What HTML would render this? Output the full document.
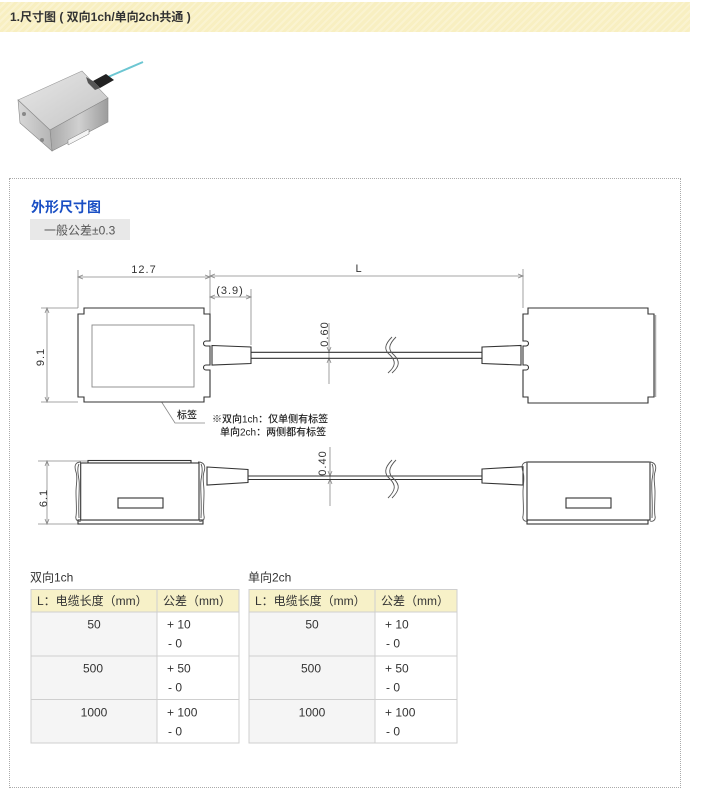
<!DOCTYPE html>
<html><head><meta charset="utf-8">
<style>
html,body{margin:0;padding:0;background:#fff;}
body{width:705px;height:792px;position:relative;overflow:hidden;font-family:"Liberation Sans","Noto Sans CJK SC",sans-serif;}
.hdr{position:absolute;left:0;top:2px;width:690px;height:30px;background:repeating-linear-gradient(135deg,#f8efc1 0px,#f8efc1 3px,#faf3d0 3px,#faf3d0 5px);}
.hdr span{position:absolute;left:10px;top:7px;font-size:12px;font-weight:bold;color:#333;white-space:nowrap;line-height:16px;}
.box{position:absolute;left:9px;top:178px;width:670px;height:608px;border:1px dotted #aaa;}
</style></head><body>
<div class="hdr"><span>1.尺寸图 ( 双向1ch/单向2ch共通 )</span></div>
<div class="box"></div>
<svg width="705" height="792" viewBox="0 0 705 792" style="position:absolute;left:0;top:0" font-family="Liberation Sans, Noto Sans CJK SC, sans-serif">
<defs>
<linearGradient id="gt" x1="0" y1="0" x2="1" y2="1"><stop offset="0" stop-color="#e8e8e8"/><stop offset="1" stop-color="#c4c4c4"/></linearGradient>
<linearGradient id="gf" x1="0" y1="0" x2="1" y2="0"><stop offset="0" stop-color="#a8a8a8"/><stop offset="0.5" stop-color="#d0d0d0"/><stop offset="1" stop-color="#9c9c9c"/></linearGradient>
<linearGradient id="gl" x1="0" y1="0" x2="1" y2="0"><stop offset="0" stop-color="#d8d8d8"/><stop offset="1" stop-color="#b4b4b4"/></linearGradient>
</defs>
<!-- device photo -->
<g>
<line x1="108" y1="77" x2="143" y2="62" stroke="#6cc6d2" stroke-width="2"/>
<polygon points="18,100 82,71 108,98 50,130" fill="url(#gt)" stroke="#999" stroke-width="0.6"/>
<polygon points="50,130 108,98 108,122 52,151" fill="url(#gf)" stroke="#888" stroke-width="0.6"/>
<polygon points="18,100 50,130 52,151 20,123" fill="url(#gl)" stroke="#888" stroke-width="0.6"/>
<polygon points="68,140 89,129 89,134 68,145" fill="#f4f4f4" stroke="#777" stroke-width="0.5"/>
<circle cx="24" cy="114" r="2" fill="#888"/><circle cx="42" cy="140" r="2" fill="#888"/>
<polygon points="93,81 106,74 114,80 100,88" fill="#222"/>
<polygon points="86,77 93,81 100,88 95,90 88,83" fill="#555"/>
</g>
<!-- title -->
<text x="31" y="212" font-size="14" font-weight="bold" fill="#1a4fc4">外形尺寸图</text>
<rect x="30" y="219" width="100" height="21" fill="#e8e8e8"/>
<text x="44" y="234.5" font-size="12" fill="#555">一般公差±0.3</text>

<!-- dimension lines -->
<g stroke="#888" stroke-width="0.8" fill="none">
<line x1="78" y1="270" x2="78" y2="308"/>
<line x1="210" y1="270" x2="210" y2="314"/>
<line x1="523" y1="269" x2="523" y2="308"/>
<line x1="251" y1="289" x2="251" y2="345"/>
<line x1="78" y1="277" x2="210" y2="277"/>
<line x1="210" y1="276" x2="523" y2="276"/>
<line x1="210" y1="297" x2="251" y2="297"/>
<path d="M83,275 L78,277 L83,279 M205,275 L210,277 L205,279"/>
<path d="M215,274 L210,276 L215,278 M518,274 L523,276 L518,278"/>
<path d="M215,295 L210,297 L215,299 M246,295 L251,297 L246,299"/>
<line x1="41" y1="308" x2="78" y2="308"/>
<line x1="41" y1="402" x2="78" y2="402"/>
<line x1="47" y1="308" x2="47" y2="402"/>
<path d="M45,313 L47,308 L49,313 M45,397 L47,402 L49,397"/>
<line x1="329" y1="323" x2="329" y2="384"/>
<path d="M327,347 L329,352 L331,347 M327,363 L329,358 L331,363"/>
<line x1="38" y1="461" x2="88" y2="461"/>
<line x1="38" y1="524" x2="78" y2="524"/>
<line x1="47" y1="461" x2="47" y2="524"/>
<path d="M45,466 L47,461 L49,466 M45,519 L47,524 L49,519"/>
<line x1="330" y1="447" x2="330" y2="506"/>
<path d="M328,471 L330,476 L332,471 M328,484 L330,479 L332,484"/>
<path d="M152,387 L175,423 L205,423"/>
<path d="M151,393 L152,387 L155,392"/>
</g>
<g font-size="11" fill="#333" letter-spacing="1">
<text x="144" y="273" text-anchor="middle">12.7</text>
<text x="359" y="272" text-anchor="middle">L</text>
<text x="230" y="294" text-anchor="middle">(3.9)</text>
<text transform="translate(44,357) rotate(-90)" text-anchor="middle">9.1</text>
<text transform="translate(328,334) rotate(-90)" text-anchor="middle">0.60</text>
<text transform="translate(326,463) rotate(-90)" text-anchor="middle">0.40</text>
<text transform="translate(47,498) rotate(-90)" text-anchor="middle">6.1</text>
</g>
<g font-size="10" fill="#222" font-weight="500">
<text x="177" y="418.5">标签</text>
<text x="212" y="422.5">※双向1ch：仅单侧有标签</text>
<text x="220" y="435.5">单向2ch：两侧都有标签</text>
</g>

<!-- top view bodies -->
<g stroke="#333" stroke-width="1.1" fill="#fff">
<path d="M78,314 H84 V308 H204 V314 H210 V341 H206 A2.5,2.5 0 0 0 206,346 H210 V365 H206 A2.5,2.5 0 0 0 206,370 H210 V397 H204 V402 H84 V397 H78 Z"/>
<path d="M523,314 H528 V308 H648 V314 H654 V397 H648 V403 H528 V397 H523 V370 H526 A2.5,2.5 0 0 0 526,365 H523 V346 H526 A2.5,2.5 0 0 0 526,341 H523 Z"/>
<line x1="655.5" y1="315" x2="655.5" y2="397" stroke="#aaa" stroke-width="1.5"/>
<polygon points="212,345.5 251,347 251,363.5 212,365"/>
<polygon points="482,347 521,345.5 521,365 482,363.5"/>
<line x1="251" y1="352.3" x2="482" y2="352.3"/>
<line x1="251" y1="358.3" x2="482" y2="358.3"/>
</g>
<rect x="92" y="325" width="102" height="62" fill="none" stroke="#888" stroke-width="0.9"/>
<g stroke="#555" stroke-width="0.9" fill="none">
<path d="M392,337 C384,345 384,350 390,355 C396,361 396,366 388,373"/>
<path d="M396,337 C388,345 388,350 394,355 C400,361 400,366 392,373"/>
</g>

<!-- side view -->
<g stroke="#333" stroke-width="1.1" fill="#fff">
<rect x="88" y="460.5" width="103" height="2.5"/>
<rect x="78" y="520" width="125" height="4"/>
<rect x="80.7" y="463" width="118.3" height="57"/>
<rect x="118" y="498" width="45" height="10"/>
<polygon points="207,467 248,469.5 248,482.5 207,485"/>
<line x1="248" y1="476" x2="482" y2="476"/>
<line x1="248" y1="479.5" x2="482" y2="479.5"/>
<rect x="527" y="520" width="121" height="4"/>
<rect x="527" y="462" width="123" height="58"/>
<rect x="566" y="498" width="45" height="10"/>
<polygon points="482,469 523,466.7 523,485 482,483"/>
</g>
<g stroke="#555" stroke-width="0.9" fill="none">
<path d="M81,462 C75,462 74,466 76,472 C78,478 76,484 76,492 C76,502 77,510 76,516 C75,520 78,522 81,521"/>
<path d="M79,464 C77,468 78,474 79,480 C80,488 78,500 79,518"/>
<path d="M198,462 C204,462 206,466 204,472 C202,478 204,484 204,492 C204,502 203,510 204,516 C205,520 202,522 199,521"/>
<path d="M201,464 C203,468 202,474 201,480 C200,488 202,500 201,518"/>
<path d="M528,462 C522,462 521,466 523,472 C525,478 523,484 523,492 C523,502 524,510 523,516 C522,520 525,522 528,521"/>
<path d="M649,462 C655,462 657,466 655,472 C653,478 655,484 655,492 C655,502 654,510 655,516 C656,520 653,522 650,521"/>
<path d="M652,464 C654,468 653,474 652,480 C651,488 653,500 652,518"/>
<path d="M392,460 C384,468 384,474 390,479 C396,485 396,490 388,498"/>
<path d="M396,460 C388,468 388,474 394,479 C400,485 400,490 392,498"/>
</g>

<!-- tables -->
<g font-size="12" fill="#333">
<text x="30" y="581.5">双向1ch</text>
<text x="248" y="581.5">单向2ch</text>
</g>
<g>
<rect x="31" y="589.5" width="208" height="22.5" fill="#f7f1c8"/>
<rect x="31" y="612" width="126" height="131" fill="#f5f5f5"/>
<rect x="249" y="589.5" width="208" height="22.5" fill="#f7f1c8"/>
<rect x="249" y="612" width="126" height="131" fill="#f5f5f5"/>
</g>
<g stroke="#cfcfcf" stroke-width="1" fill="none">
<rect x="31" y="589.5" width="208" height="153.5"/>
<line x1="157" y1="589.5" x2="157" y2="743"/>
<line x1="31" y1="612" x2="239" y2="612"/>
<line x1="31" y1="656" x2="239" y2="656"/>
<line x1="31" y1="699.5" x2="239" y2="699.5"/>
<rect x="249" y="589.5" width="208" height="153.5"/>
<line x1="375" y1="589.5" x2="375" y2="743"/>
<line x1="249" y1="612" x2="457" y2="612"/>
<line x1="249" y1="656" x2="457" y2="656"/>
<line x1="249" y1="699.5" x2="457" y2="699.5"/>
</g>
<g font-size="12" fill="#333">
<text x="37" y="605">L：电缆长度（mm）</text>
<text x="163" y="605">公差（mm）</text>
<text x="94" y="628.5" text-anchor="middle">50</text>
<text x="93" y="672.5" text-anchor="middle">500</text>
<text x="94" y="716.5" text-anchor="middle">1000</text>
<text x="167" y="628.5">+ 10</text><text x="168" y="647.5">- 0</text>
<text x="167" y="672.5">+ 50</text><text x="168" y="691.5">- 0</text>
<text x="167" y="716.5">+ 100</text><text x="168" y="735.5">- 0</text>
<text x="255" y="605">L：电缆长度（mm）</text>
<text x="381" y="605">公差（mm）</text>
<text x="312" y="628.5" text-anchor="middle">50</text>
<text x="311" y="672.5" text-anchor="middle">500</text>
<text x="312" y="716.5" text-anchor="middle">1000</text>
<text x="385" y="628.5">+ 10</text><text x="386" y="647.5">- 0</text>
<text x="385" y="672.5">+ 50</text><text x="386" y="691.5">- 0</text>
<text x="385" y="716.5">+ 100</text><text x="386" y="735.5">- 0</text>
</g>
</svg>
</body></html>
